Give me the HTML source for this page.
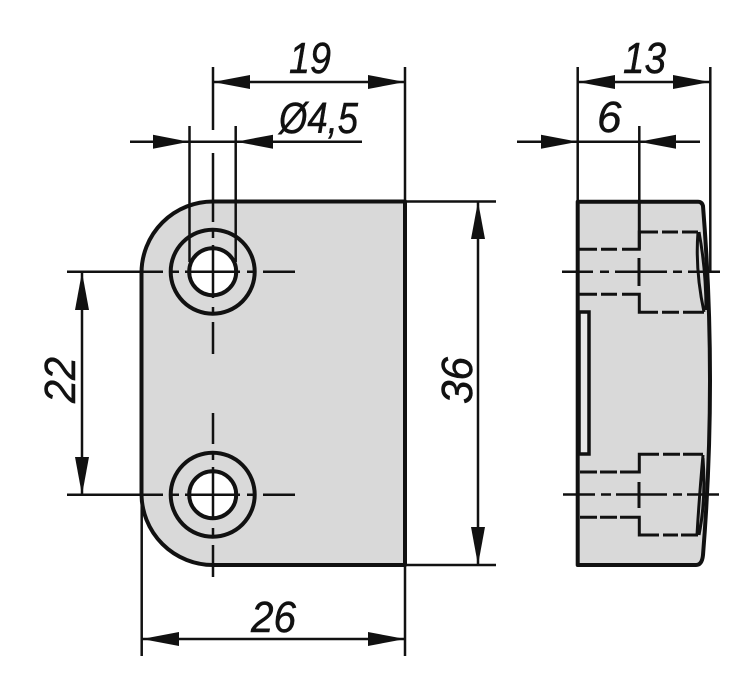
<!DOCTYPE html>
<html>
<head>
<meta charset="utf-8">
<style>
html,body{margin:0;padding:0;background:#fff;}
svg{display:block;}
text{font-family:"Liberation Sans",sans-serif;font-style:italic;font-size:44px;fill:#111;stroke:#111;stroke-width:.5px;}
</style>
</head>
<body>
<svg width="750" height="686" viewBox="0 0 750 686" xmlns="http://www.w3.org/2000/svg">
<!-- Front view -->
<path d="M213 201.5H405V565H213A71.5 71.5 0 0 1 141.5 493.5V273A71.5 71.5 0 0 1 213 201.5Z" fill="#d9d9d9" stroke="#111" stroke-width="4" stroke-linejoin="round"/>
<g fill="#fff" stroke="#111" stroke-width="4">
<circle cx="212.7" cy="271.7" r="42" fill="none"/>
<circle cx="212.7" cy="271.7" r="23.5"/>
<circle cx="212.7" cy="494.7" r="42" fill="none"/>
<circle cx="212.7" cy="494.7" r="23.5"/>
</g>
<!-- Side view -->
<path d="M577.7 201.7H698Q702 201.7 703 206Q717 380 703 555Q702 565 696 565H577.7Z" fill="#d9d9d9" stroke="#111" stroke-width="4" stroke-linejoin="round"/>
<rect x="579" y="312" width="10" height="142" fill="#e9e9e9" stroke="#111" stroke-width="3.5"/>
<g fill="none" stroke="#111" stroke-width="3">
<path d="M578 249.3H597M601 249.3H617M622 249.3H639.3V201.7"/>
<path d="M578 294.3H597M601 294.3H617M622 294.3H639.3V312.3H658M662 312.3H679M683 312.3H704"/>
<path d="M639.3 249.3V232H658M662 232H678M682 232H698"/>
<path d="M698 232Q695 270 704 312M699 232Q706 270 706 310"/>
<path d="M639 258V286M639 482V508"/>
<path d="M580 472H597M600 472H617M620 472H639.3V454.3H659M663 454.3H680M683 454.3H703"/>
<path d="M580 517.3H597M600 517.3H617M620 517.3H639.3V535H659M663 535H678M681 535H698"/>
<path d="M703 455Q699 500 697 535M703 458Q706 500 699 535"/>
</g>
<!-- Dimension and centre lines -->
<g fill="none" stroke="#111" stroke-width="2.5">
<path d="M213 67V130M213 153V222M213 230V238M213 245V298M213 307V315M213 322V354"/>
<path d="M213 413V444M213 453V460M213 467V520M213 528V537M213 545V577"/>
<path d="M67 271.7H163M170 271.7H179M185 271.7H240M247 271.7H255M263 271.7H295"/>
<path d="M67 494.7H163M170 494.7H179M185 494.7H240M247 494.7H255M263 494.7H295"/>
<path d="M189.5 126V262M235.7 126V262"/>
<path d="M405 67V201M141.7 495V656M405 565V656"/>
<path d="M405 201.5H496M405 565H496"/>
<path d="M213 82H405M130 141.7H362M82 272V495M478 201.5V565M142 639H405"/>
<path d="M577.7 67V201M710.3 67V272M639.3 126V202"/>
<path d="M578 82H710M517 141.7H700"/>
<path d="M562 271.7H593M600 271.7H609M615 271.7H667M673 271.7H682M688 271.7H720"/>
<path d="M563 494.5H595M601 494.5H611M616 494.5H667M673 494.5H682M687 494.5H719"/>
</g>
<!-- Arrowheads -->
<g fill="#111">
<path d="M213 82L250 75V89Z"/><path d="M405 82L368 75V89Z"/>
<path d="M189 141.7L153 134.7V148.7Z"/><path d="M236 141.7L273 134.7V148.7Z"/>
<path d="M82 272L75 310H89Z"/><path d="M82 495L75 457H89Z"/>
<path d="M478 201.5L471 239H485Z"/><path d="M478 565L471 527H485Z"/>
<path d="M142 639L179 632V646Z"/><path d="M405 639L368 632V646Z"/>
<path d="M578 82L615 75V89Z"/><path d="M710 82L673 75V89Z"/>
<path d="M578 141.7L541 134.7V148.7Z"/><path d="M639 141.7L676 134.7V148.7Z"/>
</g>
<!-- Labels -->
<text x="289" y="73" textLength="42" lengthAdjust="spacingAndGlyphs">19</text>
<text x="279" y="133" textLength="79" lengthAdjust="spacingAndGlyphs">Ø4,5</text>
<text x="623" y="73" textLength="43" lengthAdjust="spacingAndGlyphs">13</text>
<text x="597" y="132">6</text>
<text x="251" y="632" textLength="45" lengthAdjust="spacingAndGlyphs">26</text>
<text transform="translate(75 403) rotate(-90)" textLength="46" lengthAdjust="spacingAndGlyphs">22</text>
<text transform="translate(472 404) rotate(-90)" textLength="47" lengthAdjust="spacingAndGlyphs">36</text>
</svg>
</body>
</html>
